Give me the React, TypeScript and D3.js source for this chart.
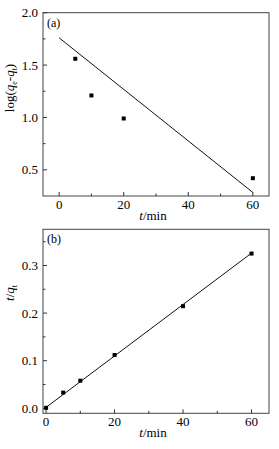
import React from 'react';
import * as d3 from 'd3';

// panel (a): pseudo-first-order
const timeA = [5, 10, 20, 60];
const logA = [1.56, 1.21, 0.99, 0.42];
const fitTimeA = [0, 60];
const fitLogA = [1.76, 0.284];

// panel (b): pseudo-second-order
const timeB = [0, 5, 10, 20, 40, 60];
const tqB = [0.001, 0.033, 0.058, 0.112, 0.2145, 0.325];
const fitTimeB = [0, 60];
const fitTqB = [0.002, 0.326];

const xTicks = [0, 20, 40, 60];
const xMinor = [10, 30, 50];
const yTicksA = [0.5, 1.0, 1.5, 2.0];
const yMinorA = [0.75, 1.25, 1.75];
const yTicksB = [0.0, 0.1, 0.2, 0.3];
const yMinorB = [0.05, 0.15, 0.25, 0.35];

const font = '"Times New Roman", "Liberation Serif", Times, serif';

type PanelProps = {
  top: number;
  bottom: number;
  xDomain: [number, number];
  yDomain: [number, number];
  xs: number[];
  ys: number[];
  fitX: number[];
  fitY: number[];
  yTicks: number[];
  yMinor: number[];
  tag: string;
  yLabel: React.ReactNode;
  yLabelY: number;
};

const Panel = (p: PanelProps) => {
  const left = 43;
  const right = 269;
  const x = d3.scaleLinear().domain(p.xDomain).range([left, right]);
  const y = d3.scaleLinear().domain(p.yDomain).range([p.bottom, p.top]);
  const line = d3
    .line<number>()
    .x(d => x(d))
    .y((d, i) => y(p.fitY[i]));

  return (
    <g style={{ fontFamily: font }} fill="#000">
      <rect
        x={left}
        y={p.top}
        width={right - left}
        height={p.bottom - p.top}
        fill="none"
        stroke="#444"
        strokeWidth={1}
      />
      {xTicks.map(t => (
        <g key={`xt${t}`}>
          <line x1={x(t)} x2={x(t)} y1={p.bottom} y2={p.bottom - 4} stroke="#333" />
          <text x={x(t)} y={p.bottom + 12.5} textAnchor="middle" fontSize={13}>
            {t}
          </text>
        </g>
      ))}
      {xMinor.map(t => (
        <line key={`xm${t}`} x1={x(t)} x2={x(t)} y1={p.bottom} y2={p.bottom - 2.5} stroke="#333" />
      ))}
      {p.yTicks.map(t => (
        <g key={`yt${t}`}>
          <line x1={left} x2={left + 4} y1={y(t)} y2={y(t)} stroke="#333" />
          <text x={38} y={y(t)} dy="0.35em" textAnchor="end" fontSize={13}>
            {t.toFixed(1)}
          </text>
        </g>
      ))}
      {p.yMinor.map(t => (
        <line key={`ym${t}`} x1={left} x2={left + 2.5} y1={y(t)} y2={y(t)} stroke="#333" />
      ))}
      <path d={line(p.fitX) || ''} fill="none" stroke="#111" strokeWidth={1} />
      {p.xs.map((d, i) => (
        <rect key={`pt${i}`} x={x(d) - 2} y={y(p.ys[i]) - 2} width={4} height={4} fill="#000" />
      ))}
      <text x={47} y={p.top + 14} fontSize={12}>
        {p.tag}
      </text>
      <text x={153} y={p.bottom + 24} textAnchor="middle" fontSize={13}>
        <tspan fontStyle="italic">t</tspan>/min
      </text>
      <text
        transform={`translate(14, ${p.yLabelY}) rotate(-90)`}
        textAnchor="middle"
        fontSize={13}
      >
        {p.yLabel}
      </text>
    </g>
  );
};

const App = () => {
  return (
    <svg
      width={279}
      height={449}
      viewBox="0 0 279 449"
      style={{ position: 'absolute', left: 0, top: 0, background: '#fff' }}
    >
      <rect width={279} height={449} fill="#fff" />
      <Panel
        top={12.7}
        bottom={196}
        xDomain={[-5, 65]}
        yDomain={[0.25, 2.0]}
        xs={timeA}
        ys={logA}
        fitX={fitTimeA}
        fitY={fitLogA}
        yTicks={yTicksA}
        yMinor={yMinorA}
        tag="(a)"
        yLabelY={88}
        yLabel={
          <>
            log(<tspan fontStyle="italic">q</tspan>
            <tspan fontSize={8} dy={3}>e</tspan>
            <tspan dy={-3}>-</tspan>
            <tspan fontStyle="italic">q</tspan>
            <tspan fontSize={8} dy={3}>t</tspan>
            <tspan dy={-3}>)</tspan>
          </>
        }
      />
      <Panel
        top={229.3}
        bottom={413.3}
        xDomain={[-0.9, 65.1]}
        yDomain={[-0.0105, 0.376]}
        xs={timeB}
        ys={tqB}
        fitX={fitTimeB}
        fitY={fitTqB}
        yTicks={yTicksB}
        yMinor={yMinorB}
        tag="(b)"
        yLabelY={293}
        yLabel={
          <>
            <tspan fontStyle="italic">t</tspan>/<tspan fontStyle="italic">q</tspan>
            <tspan fontSize={8} dy={3}>t</tspan>
          </>
        }
      />
    </svg>
  );
};

export default App;
